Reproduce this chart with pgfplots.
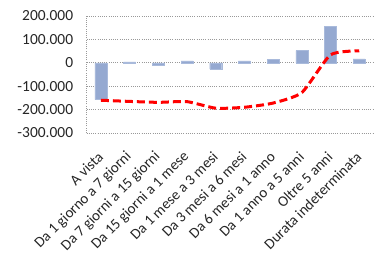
\documentclass[border=0pt]{standalone}
\usepackage{pgfplots}
\pgfplotsset{compat=1.18}
\usepackage{fontspec}
\setmainfont{Carlito}
\definecolor{barblue}{HTML}{95A9D1}
\definecolor{baredge}{HTML}{A9BADB}
\begin{document}
\begin{tikzpicture}
\useasboundingbox (0,0) rectangle (380bp,258bp);
\begin{axis}[
  at={(86.6bp,125bp)}, anchor=south west,
  scale only axis, width=287bp, height=117bp,
  xmin=-0.5, xmax=9.5, ymin=-300, ymax=200,
  axis lines*=left,
  axis line style={draw=gray!80, dash pattern=on 1bp off 1.2bp, line width=0.8bp},
  ytick={-300,-200,-100,0,100,200},
  yticklabels={-300.000,-200.000,-100.000,0,100.000,200.000},
  ymajorgrids,
  grid style={draw=gray!80, dash pattern=on 1bp off 1.2bp, line width=0.8bp},
  xtick={0,...,9},
  xticklabels={A vista,Da 1 giorno a 7 giorni,Da 7 giorni a 15 giorni,Da 15 giorni a 1 mese,Da 1 mese a 3 mesi,Da 3 mesi a 6 mesi,Da 6 mesi a 1 anno,Da 1 anno a 5 anni,Oltre 5 anni,Durata indeterminata},
  major tick length=0pt,
  yticklabel style={font=\fontsize{15.5}{17}\selectfont, text=black!85, xshift=-10bp},
  xticklabel style={font=\fontsize{15}{17}\selectfont, text=black!85, xshift=2bp, yshift=-19bp, rotate=45, anchor=east},
  clip=false,
]
\addplot[ybar, bar width=12bp, fill=barblue, draw=baredge] coordinates {
 (0,-157) (1,4) (2,-9) (3,8) (4,-27) (5,8) (6,16) (7,52) (8,157) (9,17)};
\addplot[red, line width=3bp, dash pattern=on 8bp off 4bp, smooth, tension=0.35] coordinates {
 (0,-160) (1,-165) (2,-169) (3,-166) (4,-194) (5,-190) (6,-172) (7,-127) (8,34) (9,51)};
\end{axis}
\end{tikzpicture}
\end{document}
